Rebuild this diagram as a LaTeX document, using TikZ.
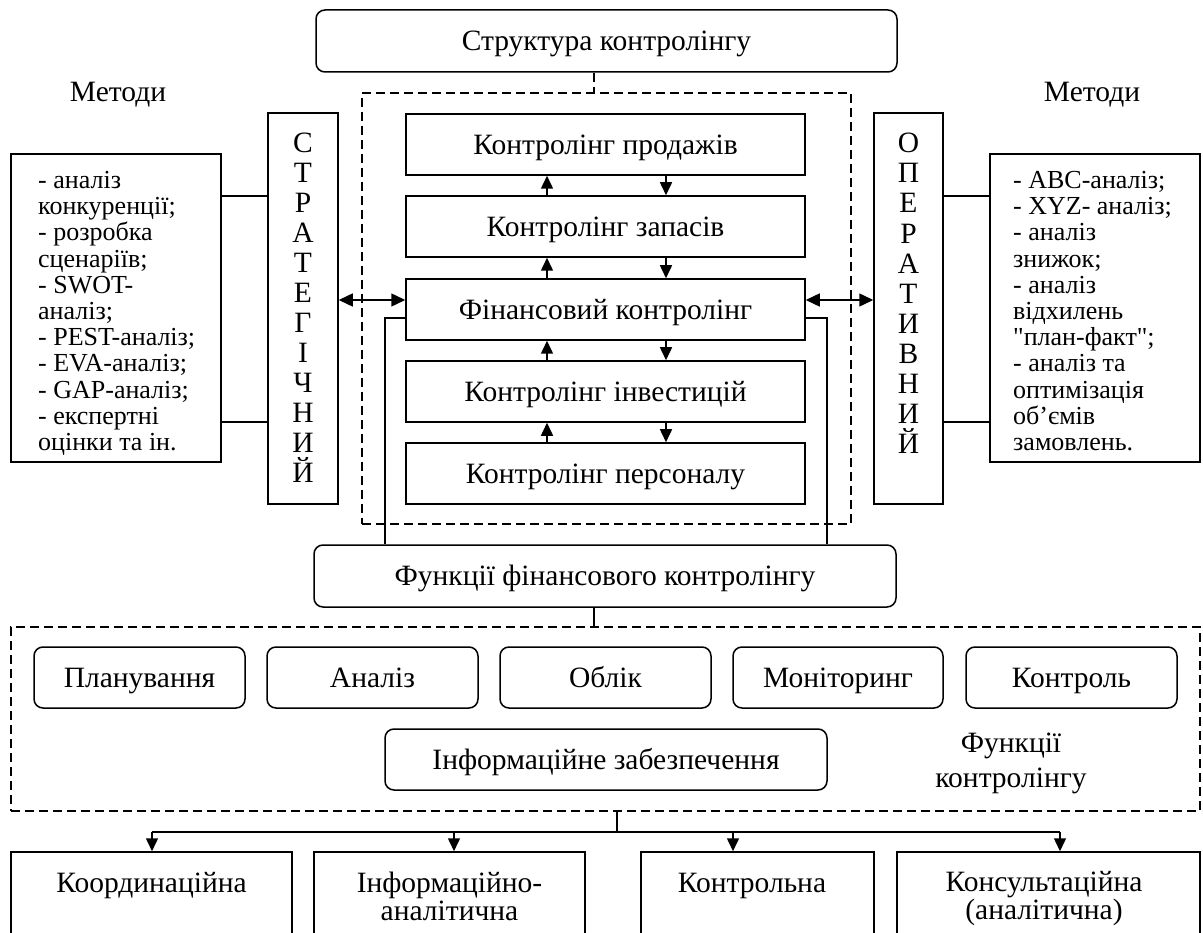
\documentclass[tikz,border=0pt]{standalone}
\usepackage{fontspec}
\setmainfont{Liberation Serif}[Ligatures=TeXOff]
\usetikzlibrary{arrows.meta}
\begin{document}
\begin{tikzpicture}[x=1pt,y=-1pt,
  box/.style={draw, line width=1.5pt, inner sep=0pt},
  rbox/.style={box, rounded corners=9pt},
  dbox/.style={draw, line width=1.3pt, dash pattern=on 9pt off 5pt, inner sep=0pt},
  ln/.style={line width=1.5pt},
  arr/.style={ln, -{Triangle[length=13pt,width=12pt]}},
  arr2/.style={ln, {Triangle[length=14pt,width=13pt]}-{Triangle[length=14pt,width=13pt]}},
  main/.style={font=\fontsize{29.5}{34}\selectfont},
  one/.style={main, text height=24pt, text depth=4.5pt},
  meth/.style={font=\fontsize{26}{26.2}\selectfont, align=left, anchor=north west, inner sep=0pt},
  txt/.style={main, inner sep=0pt},
]
\useasboundingbox (0,0) rectangle (1203,933);
\clip (0,0) rectangle (1203,933);

% top structure
\node[rbox, one, minimum width=581pt, minimum height=62pt] (top) at (606.5,41) {Структура контролінгу};
\node[dbox, minimum width=489pt, minimum height=431pt] (cbox) at (606.5,308.5) {};

\node[box, one, minimum width=399pt, minimum height=61pt] (prod) at (605.5,144.5) {Контролінг продажів};
\node[box, one, minimum width=399pt, minimum height=61pt] (zap) at (605.5,226.5) {Контролінг запасів};
\node[box, one, minimum width=399pt, minimum height=61pt] (fin) at (605.5,309.5) {Фінансовий контролінг};
\node[box, one, minimum width=399pt, minimum height=61pt] (inv) at (605.5,391.5) {Контролінг інвестицій};
\node[box, one, minimum width=399pt, minimum height=61pt] (pers) at (605.5,473.5) {Контролінг персоналу};

\node[box, minimum width=70pt, minimum height=391pt] (strat) at (303,308.5) {};
\node[txt, align=center, font=\fontsize{29.5}{30}\selectfont, anchor=north] (stratT) at (303,133)
  {С\\Т\\Р\\А\\Т\\Е\\Г\\І\\Ч\\Н\\И\\Й};
\node[box, minimum width=69pt, minimum height=391pt] (oper) at (908.5,308.5) {};
\node[txt, align=center, font=\fontsize{29.5}{30.1}\selectfont, anchor=north] (operT) at (908.5,133)
  {О\\П\\Е\\Р\\А\\Т\\И\\В\\Н\\И\\Й};

\node[txt] (ml) at (118,95) {Методи};
\node[txt] (mr) at (1092,95) {Методи};

\node[box, minimum width=210pt, minimum height=308pt] (lm) at (116,308) {};
\node[meth] (lmT) at (38,171) {- аналіз\\конкуренції;\\- розробка\\сценаріїв;\\- SWOT-\\аналіз;\\- PEST-аналіз;\\- EVA-аналіз;\\- GAP-аналіз;\\- експертні\\оцінки та ін.};
\node[box, minimum width=210pt, minimum height=308pt] (rm) at (1095,308) {};
\node[meth] (rmT) at (1013,171) {- ABC-аналіз;\\- XYZ- аналіз;\\- аналіз\\знижок;\\- аналіз\\відхилень\\"план-факт";\\- аналіз та\\оптимізація\\об’ємів\\замовлень.};

% functions
\node[rbox, one, minimum width=582pt, minimum height=62pt] (func) at (605,576) {Функції фінансового контролінгу};
\node[dbox, minimum width=1189pt, minimum height=184pt] (big) at (605.5,719) {};

\node[rbox, one, minimum width=211pt, minimum height=61pt] (plan) at (139.5,677.5) {Планування};
\node[rbox, one, minimum width=211pt, minimum height=61pt] (anal) at (372.5,677.5) {Аналіз};
\node[rbox, one, minimum width=211pt, minimum height=61pt] (obl) at (605.5,677.5) {Облік};
\node[rbox, one, minimum width=210pt, minimum height=61pt] (mon) at (838,677.5) {Моніторинг};
\node[rbox, one, minimum width=211pt, minimum height=61pt] (ctrl) at (1071.5,677.5) {Контроль};
\node[rbox, one, minimum width=442pt, minimum height=61pt] (info) at (606,759.5) {Інформаційне забезпечення};
\node[txt, align=center, font=\fontsize{29.5}{35}\selectfont] (fk) at (1011,763) {Функції\\контролінгу};

% bottom boxes
\node[box, minimum width=281pt, minimum height=93pt] (b1) at (151.5,898.5) {};
\node[box, minimum width=271pt, minimum height=93pt] (b2) at (449.5,898.5) {};
\node[box, minimum width=233pt, minimum height=93pt] (b3) at (757.5,898.5) {};
\node[box, minimum width=303pt, minimum height=93pt] (b4) at (1048.5,898.5) {};
\node[txt, anchor=base] (b1T) at (151.5,892) {Координаційна};
\node[txt, anchor=north, align=center, font=\fontsize{29.5}{28}\selectfont] (b2T) at (449.5,872) {Інформаційно-\\аналітична};
\node[txt, anchor=base] (b3T) at (752,892) {Контрольна};
\node[txt, anchor=north, align=center, font=\fontsize{29.5}{28}\selectfont] (b4T) at (1044,871) {Консультаційна\\(аналітична)};

% coordinates
\coordinate (ux) at (547,0);
\coordinate (dx) at (666,0);
\coordinate (y1) at (0,196);
\coordinate (y2) at (0,422);
\coordinate (ya) at (0,300);
\coordinate (yb) at (0,318);
\coordinate (xl) at (385,0);
\coordinate (xr) at (827,0);
\coordinate (xm) at (594,0);
\coordinate (xbus) at (617,0);
\coordinate (bus) at (0,832);
\coordinate (a1) at (152,0);
\coordinate (a2) at (454,0);
\coordinate (a3) at (733,0);
\coordinate (a4) at (1060,0);

% connectors
\draw[dbox] (top.south -| xm) -- (cbox.north -| xm);
\foreach \u/\l in {prod/zap, zap/fin, fin/inv, inv/pers}{
  \draw[arr] (\l.north -| ux) -- (\u.south -| ux);
  \draw[arr] (\u.south -| dx) -- (\l.north -| dx);
}
\draw[ln] (lm.east |- y1) -- (strat.west |- y1);
\draw[ln] (lm.east |- y2) -- (strat.west |- y2);
\draw[ln] (oper.east |- y1) -- (rm.west |- y1);
\draw[ln] (oper.east |- y2) -- (rm.west |- y2);
\draw[arr2] (strat.east |- ya) -- (fin.west |- ya);
\draw[arr2] (fin.east |- ya) -- (oper.west |- ya);
\draw[ln] (fin.west |- yb) -| (xl |- func.north);
\draw[ln] (fin.east |- yb) -| (xr |- func.north);
\draw[ln] (func.south -| xm) -- (big.north -| xm);
\draw[ln] (big.south -| xbus) -- (xbus |- bus);
\draw[ln] (a1 |- bus) -- (a4 |- bus);
\draw[arr] (a1 |- bus) -- (a1 |- b1.north);
\draw[arr] (a2 |- bus) -- (a2 |- b2.north);
\draw[arr] (a3 |- bus) -- (a3 |- b3.north);
\draw[arr] (a4 |- bus) -- (a4 |- b4.north);
\end{tikzpicture}
\end{document}
